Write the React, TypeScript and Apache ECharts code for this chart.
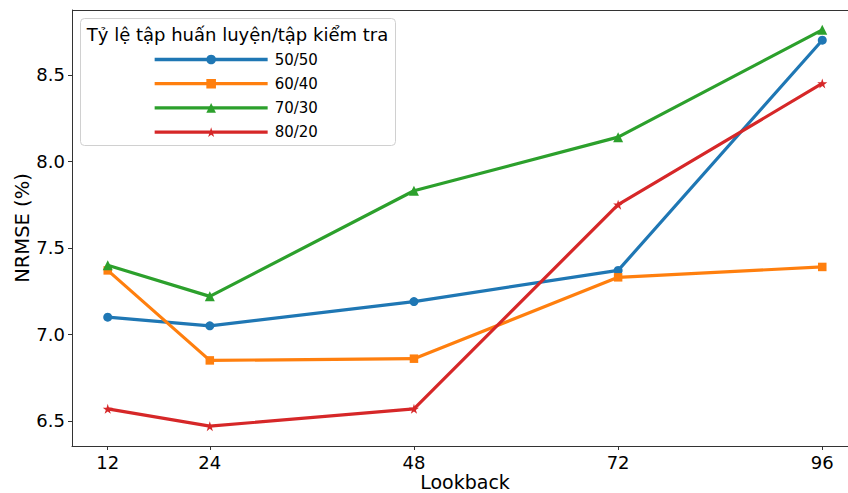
import React, { useEffect, useRef } from "react";
import * as echarts from "echarts";

const lookbacks = [12, 24, 48, 72, 96];
const xTicks = [12, 24, 48, 72, 96];
const yTicks = [6.5, 7.0, 7.5, 8.0, 8.5];
const seriesNames = ["50/50", "60/40", "70/30", "80/20"];
const s5050 = [7.1, 7.05, 7.19, 7.37, 8.7];
const s6040 = [7.37, 6.85, 6.86, 7.33, 7.39];
const s7030 = [7.4, 7.22, 7.83, 8.14, 8.76];
const s8020 = [6.57, 6.47, 6.57, 7.75, 8.45];
const colors = ["#1f77b4", "#ff7f0e", "#2ca02c", "#d62728"];
const symbols = ["circle", "rect", "triangle", "path://M50,0 L61.8,35.4 L100,35.4 L69.1,57.3 L80.9,92.7 L50,70.8 L19.1,92.7 L30.9,57.3 L0,35.4 L38.2,35.4 Z"];
const symbolSizes = [9, 8.5, 10, 10];
const legendTitle = "Tỷ lệ tập huấn luyện/tập kiểm tra";

const FONT = "DejaVu Sans";

export default function App() {
  const ref = useRef<HTMLDivElement>(null);
  useEffect(() => {
    if (!ref.current) return;
    const chart = echarts.init(ref.current, undefined, { renderer: "svg" });
    const all = [s5050, s6040, s7030, s8020];
    const series = all.map((vals, i) => ({
      name: seriesNames[i],
      type: "line",
      data: vals.map((v, j) => [lookbacks[j], v]),
      symbol: symbols[i],
      symbolSize: symbolSizes[i],
      showAllSymbol: true,
      lineStyle: { color: colors[i], width: 3.2 },
      itemStyle: { color: colors[i] },
      emphasis: { disabled: true },
      z: 2 + i,
    }));
    chart.setOption({
      animation: false,
      backgroundColor: "#ffffff",
      grid: { left: 72, top: 10, width: 786, height: 436, containLabel: false, outerBoundsMode: "none" },
      xAxis: {
        type: "value",
        min: 7.8,
        max: 100.2,
        name: "Lookback",
        nameLocation: "middle",
        nameGap: 26,
        nameMoveOverlap: false,
        nameTextStyle: { fontFamily: FONT, fontSize: 19, color: "#000" },
        axisLine: { show: true, lineStyle: { color: "#333", width: 1 } },
        axisTick: { show: true, length: 4, lineStyle: { color: "#333" }, customValues: xTicks },
        axisLabel: { fontFamily: FONT, fontSize: 18, color: "#000", margin: 7, customValues: xTicks },
        splitLine: { show: false },
      },
      yAxis: {
        type: "value",
        min: 6.3555,
        max: 8.8745,
        name: "NRMSE (%)",
        nameLocation: "middle",
        nameGap: 40,
        nameMoveOverlap: false,
        nameRotate: 90,
        nameTextStyle: { fontFamily: FONT, fontSize: 19.5, color: "#000" },
        axisLine: { show: true, lineStyle: { color: "#333", width: 1 } },
        axisTick: { show: true, length: 4, lineStyle: { color: "#333" }, customValues: yTicks },
        axisLabel: {
          fontFamily: FONT,
          fontSize: 18,
          color: "#000",
          margin: 7,
          customValues: yTicks,
          formatter: (v: number) => v.toFixed(1),
        },
        splitLine: { show: false },
      },
      legend: {
        orient: "vertical",
        left: 153,
        top: 52,
        padding: 0,
        itemWidth: 113,
        itemHeight: 12,
        itemGap: 9.2,
        z: 30,
        lineStyle: { width: 3.3 },
        data: seriesNames,
        textStyle: { fontFamily: FONT, fontSize: 15, color: "#000", padding: [0, 0, 0, 2] },
        selectedMode: false,
      },
      graphic: [
        {
          type: "rect",
          shape: { x: 80.5, y: 18.5, width: 315, height: 127, r: 4 },
          style: { fill: "rgba(255,255,255,0.8)", stroke: "#d0d0d0", lineWidth: 1 },
          z: 10,
        },
        {
          type: "text",
          x: 237.5,
          y: 34,
          style: {
            text: legendTitle,
            fontFamily: FONT,
            fontSize: 18,
            fill: "#000",
            align: "center",
            verticalAlign: "middle",
          },
          z: 11,
        },
        {
          type: "rect",
          shape: { x: 72.5, y: 10.5, width: 800, height: 436 },
          style: { fill: "none", stroke: "#333", lineWidth: 1 },
          z: 1,
          silent: true,
        },
      ],
      series,
    });
    return () => chart.dispose();
  }, []);
  return (
    <div
      ref={ref}
      style={{ position: "absolute", left: 0, top: 0, width: 848, height: 493 }}
    />
  );
}
